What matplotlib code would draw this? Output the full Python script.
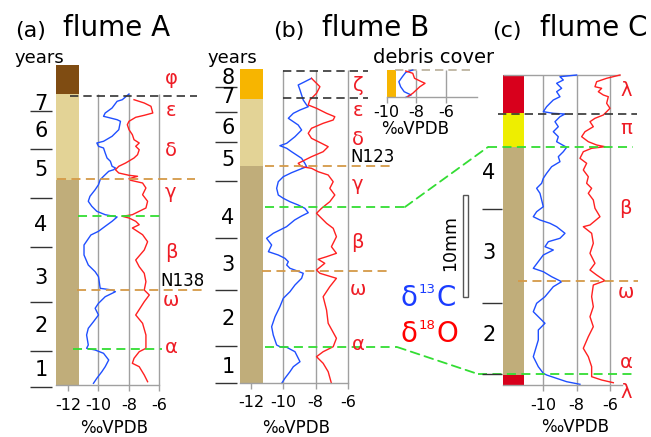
import numpy as np
import matplotlib.pyplot as plt
from matplotlib.patches import ConnectionPatch, Rectangle

plt.rcParams['font.family'] = 'DejaVu Sans'
plt.rcParams['axes.unicode_minus'] = False

# ---- data: depth (mm from top of core) and delta values (permil VPDB) ----
A_blue_d = [0.0, 0.57, 0.73, 1.4, 1.9, 2.23, 2.4, 2.57, 2.73, 3.57, 4.23, 4.73, 4.9, 5.23, 5.4, 5.9, 6.4, 6.73, 7.23,
            7.4, 7.57, 7.73, 8.23, 8.57, 9.07, 9.57, 10.23, 10.73, 11.23, 11.73, 12.07, 12.23, 12.3, 12.73, 13.23,
            13.73, 14.1, 15.1, 16.1, 17.1, 17.77, 18.27, 19.43, 19.6, 19.77, 20.27, 20.93, 21.43, 22.1, 22.77, 23.43,
            24.1, 25.1, 25.43, 25.6, 25.93, 26.6, 27.27, 27.77, 28.43, 28.93]
A_blue_v = [-8.0, -8.44, -8.78, -9.11, -9.56, -9.67, -9.22, -8.78, -8.56, -8.67, -9.11, -9.67, -10.11, -10.0, -9.67,
            -9.56, -9.44, -9.22, -9.11, -8.89, -9.0, -9.33, -9.67, -9.89, -10.0, -10.22, -10.56, -10.67, -10.44,
            -10.11, -9.56, -9.0, -8.78, -9.11, -9.56, -10.0, -10.5, -10.95, -10.95, -10.67, -10.22, -10.0, -9.89,
            -9.11, -8.89, -9.56, -10.0, -10.22, -10.0, -10.33, -10.67, -10.78, -10.67, -10.78, -10.22, -9.67, -9.33,
            -9.56, -9.78, -10.11, -10.33]
A_red_d = [0.57, 0.9, 1.23, 1.9, 2.13, 2.33, 2.73, 3.07, 3.57, 4.07, 4.57, 4.9, 5.23, 5.57, 6.07, 6.4, 6.9, 7.23, 7.57,
           7.9, 8.13, 8.23, 8.47, 8.63, 8.9, 9.4, 10.07, 10.73, 11.4, 11.73, 12.07, 12.23, 12.4, 12.73, 13.07, 13.4,
           14.07, 14.77, 15.6, 16.6, 17.27, 17.93, 18.77, 19.6, 20.1, 20.77, 22.1, 22.93, 24.1, 25.43, 25.77, 26.43,
           26.93, 27.27, 28.1, 28.77]
A_red_v = [-7.67, -7.0, -6.56, -6.44, -7.0, -7.56, -8.0, -8.11, -8.0, -7.78, -7.67, -7.33, -7.56, -7.33, -7.44, -7.67,
           -8.22, -8.67, -8.89, -8.67, -8.0, -7.44, -8.0, -7.89, -7.11, -6.89, -7.11, -6.78, -6.89, -7.33, -7.78,
           -8.44, -8.0, -7.56, -7.33, -7.78, -7.11, -6.78, -7.0, -7.56, -7.33, -7.0, -6.89, -7.0, -6.67, -7.0, -7.56,
           -7.11, -6.89, -6.89, -7.33, -7.67, -7.78, -7.33, -7.0, -6.78]

B_blue_d = [0.83, 1.17, 1.5, 2.0, 2.5, 3.0, 3.5, 3.67, 4.0, 4.33, 4.83, 5.17, 5.5, 6.0, 6.67, 7.33, 7.57, 7.83, 8.17,
            8.5, 8.83, 9.33, 9.67, 10.0, 10.27, 10.67, 11.17, 11.83, 12.5, 12.83, 13.17, 13.5, 13.83, 14.27, 14.6,
            15.0, 15.67, 16.33, 16.83, 17.5, 18.17, 18.5, 18.83, 19.17, 19.5, 19.83, 20.07, 20.33, 20.83, 21.5,
            22.17, 22.83, 23.67, 24.67, 25.67, 26.5, 27.5, 27.67, 27.73, 28.17, 29.17, 29.67, 30.17, 30.83, 31.33]
B_blue_v = [-8.26, -8.67, -9.08, -8.97, -8.87, -8.77, -8.56, -8.46, -8.97, -9.38, -9.69, -9.38, -9.08, -8.87, -9.28,
            -9.79, -10.21, -9.79, -9.49, -9.18, -8.87, -8.67, -8.56, -9.08, -9.49, -10.0, -10.31, -10.41, -10.31,
            -10.0, -9.59, -9.08, -8.67, -8.46, -8.87, -9.3, -9.8, -10.62, -11.03, -10.72, -10.92, -10.31, -9.9,
            -9.69, -9.79, -9.59, -9.18, -8.77, -8.87, -9.28, -9.59, -10.0, -10.21, -10.51, -10.72, -10.62, -10.41,
            -10.21, -9.79, -9.28, -8.97, -9.38, -9.59, -9.9, -10.1]
B_red_d = [0.83, 1.67, 2.33, 3.0, 3.5, 3.83, 4.33, 4.67, 5.0, 5.33, 5.83, 6.33, 6.83, 7.33, 7.67, 8.17, 8.67, 9.0,
           9.33, 9.67, 9.83, 10.17, 10.5, 11.17, 11.83, 12.5, 13.17, 13.83, 14.33, 14.83, 15.33, 15.83, 16.67,
           17.67, 18.33, 18.67, 18.93, 19.33, 20.0, 20.33, 20.83, 21.67, 22.67, 24.0, 25.33, 26.83, 27.67, 28.17,
           28.67, 29.33, 30.17, 31.33]
B_red_v = [-8.26, -7.74, -7.95, -8.36, -8.46, -7.95, -7.33, -6.82, -6.92, -7.54, -8.26, -8.46, -8.26, -7.64, -7.23,
           -7.54, -8.26, -8.67, -9.08, -8.87, -8.26, -7.85, -7.23, -6.92, -7.13, -6.82, -7.13, -7.64, -7.95, -7.64,
           -7.33, -6.92, -6.72, -7.03, -6.72, -7.33, -7.85, -7.44, -7.95, -7.74, -6.72, -7.13, -7.54, -7.33, -7.23,
           -6.72, -6.92, -7.54, -7.95, -7.54, -7.23, -7.03]

D_blue_d = [0, 0.23, 0.67, 1.17, 1.67, 2.17, 2.5, 2.73]
D_blue_v = [-8.24, -8.71, -8.94, -9.18, -9.06, -8.82, -8.35, -8.71]
D_red_d = [0.1, 0.33, 0.83, 1.17, 1.33, 1.67, 2.0, 2.33, 2.67]
D_red_v = [-8.71, -8.24, -8.12, -7.65, -7.41, -7.76, -8.0, -8.24, -8.59]

C_blue_d = [0, 0.17, 0.5, 0.83, 1.33, 1.67, 2.17, 2.5, 2.83, 3.17, 3.67, 3.83, 3.9, 4.17, 4.67, 5.17, 5.67, 6.17,
            6.67, 7.23, 7.67, 8.17, 8.67, 9.17, 9.83, 10.33, 10.83, 11.33, 11.83, 12.5, 13.17, 13.67, 14.17, 14.5,
            14.83, 15.17, 15.83, 16.33, 16.67, 17.17, 17.5, 18.0, 19.33, 19.67, 20.17, 20.67, 21.17, 22.17, 22.83,
            23.67, 24.17, 24.83, 25.5, 26.5, 28.17, 29.17, 29.83, 30.0, 30.67, 30.93]
C_blue_v = [-8.0, -9.0, -8.8, -9.2, -8.9, -9.2, -9.0, -9.4, -9.6, -9.8, -10.0, -9.4, -8.7, -9.0, -9.3, -9.1, -9.4,
            -9.1, -9.2, -8.6, -8.8, -9.1, -9.0, -9.5, -9.8, -10.0, -10.1, -10.4, -10.2, -10.1, -10.0, -10.4, -10.6,
            -10.2, -9.6, -9.2, -8.7, -9.0, -9.7, -9.9, -9.4, -10.0, -10.6, -10.0, -9.5, -8.9, -9.4, -9.9, -10.4,
            -10.6, -10.3, -9.9, -10.3, -10.3, -10.6, -10.3, -10.0, -9.8, -8.6, -7.8]
C_red_d = [0, 0.33, 0.67, 1.17, 1.33, 1.67, 2.0, 2.17, 2.83, 3.33, 3.67, 4.0, 4.33, 4.67, 5.17, 5.67, 6.17, 6.67, 7.0,
           7.17, 7.33, 7.67, 8.33, 8.83, 9.5, 10.17, 10.83, 11.33, 11.83, 12.5, 13.33, 14.17, 15.0, 15.17, 15.83,
           16.83, 17.83, 18.83, 19.5, 20.0, 20.57, 21.0, 22.17, 23.17, 24.17, 25.17, 26.17, 27.33, 28.17, 29.17,
           30.17, 30.5, 30.77]
C_red_v = [-5.4, -6.2, -6.8, -6.9, -6.5, -6.7, -6.4, -6.1, -6.2, -6.0, -6.2, -6.4, -6.9, -7.2, -7.0, -7.5, -7.7, -7.3,
           -6.8, -6.3, -7.1, -7.6, -7.8, -7.4, -7.6, -7.3, -7.4, -7.1, -7.3, -7.0, -6.9, -6.6, -7.2, -7.6, -7.1,
           -7.0, -7.2, -6.9, -7.2, -6.8, -6.3, -7.0, -7.1, -7.0, -7.2, -7.0, -7.3, -7.6, -7.3, -7.1, -7.1, -6.5,
           -5.8]

# core columns: unit boundaries (depth) and colours
A_units = [-2.9, 0.0, 8.6, 29.1]
A_colors = ['#7f4c12', '#e3d396', '#c0ad7a']
B_units = [-0.1, 2.9, 9.6, 31.3]
B_colors = ['#f7b500', '#e3d396', '#c0ad7a']
C_units = [0.0, 3.8, 7.2, 30.0, 31.0]
C_colors = ['#d8001c', '#eeee00', '#c0ad7a', '#d8001c']

# year boundaries and labels
A_year_ticks = [1.7, 5.5, 10.4, 15.3, 20.8, 25.7, 29.3]
A_years = ['7', '6', '5', '4', '3', '2', '1']
A_year_pos = [1.0, 3.7, 7.6, 13.1, 18.4, 23.2, 27.6]
B_year_ticks = [1.7, 4.2, 7.2, 11.1, 16.8, 22.0, 27.6, 31.3]
B_years = ['8', '7', '6', '5', '4', '3', '2', '1']
B_year_pos = [0.8, 2.75, 5.8, 9.0, 14.8, 19.5, 24.9, 29.7]
C_year_ticks = [13.4, 22.8, 29.9]
C_years = ['4', '3', '2']
C_year_pos = [9.8, 17.8, 26.0]

# layer names
A_layers = [('φ', -1.5), ('ε', 1.6), ('δ', 5.6), ('γ', 9.9), ('β', 15.8), ('ω', 20.6), ('α', 25.3)]
B_layers = [('ζ', 1.6), ('ε', 4.1), ('δ', 7.0), ('γ', 11.5), ('β', 17.3), ('ω', 22.0), ('α', 27.5)]
C_layers = [('λ', 1.5), ('π', 5.3), ('β', 13.3), ('ω', 21.7), ('α', 28.8), ('λ', 31.8)]

BLUE = '#1f4fff'
RED = '#ff2020'
LRED = '#ee1c25'
GRAY = '#a0a0a0'
GREEN = '#33dd33'
ORANGE = '#d49a48'
BLACK = '#333333'
DASH = (0, (5, 3))

W, H = 651, 437
fig = plt.figure(figsize=(W / 100, H / 100), dpi=100)


def panel_axes(x0, x1, ref, sx, top):
    # x0, x1: pixel span; ref: pixel of -10 permil; sx: px per permil; top: pixel row of depth 0
    ax = fig.add_axes([x0 / W, 0, (x1 - x0) / W, 1])
    v0 = -10 - (ref - x0) / sx
    ax.set_xlim(v0, v0 + (x1 - x0) / sx)
    ax.set_ylim((H - top) / 10, -top / 10)
    ax.patch.set_visible(False)
    for s in ['top', 'left', 'right']:
        ax.spines[s].set_visible(False)
    ax.set_yticks([])
    return ax


def bottom_axis(ax, depth, lo, hi, ticks, pad):
    sp = ax.spines['bottom']
    sp.set_position(('data', depth))
    sp.set_bounds(lo, hi)
    sp.set_color(GRAY)
    sp.set_linewidth(1.0)
    ax.set_xticks(ticks)
    ax.set_xticklabels([str(t) for t in ticks])
    ax.tick_params(axis='x', length=4, width=1, color=GRAY, labelsize=11.5, pad=pad)


def column(ax, lo, hi, edges, colors):
    ax.bar([(lo + hi) / 2] * len(colors), np.diff(edges), bottom=edges[:-1], width=hi - lo,
           color=colors, linewidth=0, zorder=1)


def years(ax, xt0, xt1, xl, ticks, labels, pos):
    ax.hlines(ticks, xt0, xt1, color=BLACK, lw=1.0)
    for lab, p in zip(labels, pos):
        ax.text(xl, p, lab, fontsize=15, ha='center', va='center')


def layers(ax, x, items):
    for lab, p in items:
        ax.text(x, p, lab, fontsize=14, color=LRED, ha='center', va='center')


# ---------------- panel A ----------------
axA = panel_axes(0, 215, 98.5, 15.25, 94)
column(axA, -12.79, -11.25, A_units, A_colors)
axA.vlines([-10, -8, -6], 0, 29.1, color=GRAY, lw=1.0)
bottom_axis(axA, 29.1, -12.79, -6, [-12, -10, -8, -6], 5)
axA.plot(A_blue_v, A_blue_d, color=BLUE, lw=1.0)
axA.plot(A_red_v, A_red_d, color=RED, lw=1.0)
axA.hlines(0.2, -11.87, -3.54, color=BLACK, lw=1.2, linestyles=DASH)
axA.hlines([8.5, 19.6], [-12.72, -11.41], [-3.67, -3.15], color=ORANGE, lw=1.3, linestyles=DASH)
axA.hlines([12.2, 25.5], [-11.34, -11.67], [-5.84, -5.84], color=GREEN, lw=1.3, linestyles=DASH)
years(axA, -14.49, -13.05, -13.77, A_year_ticks, A_years, A_year_pos)
axA.text(-13.9, -3.6, 'years', fontsize=13, ha='center', va='center')
layers(axA, -5.25, A_layers)
axA.text(-4.46, 18.7, 'N138', fontsize=12, ha='center', va='center')
axA.text(-8.98, 33.4, '‰VPDB', fontsize=12, ha='center', va='center')

# ---------------- panel B ----------------
axB = panel_axes(200, 420, 283.3, 16.2, 70)
column(axB, -12.67, -11.25, B_units, B_colors)
axB.vlines([-10, -8, -6], 0, 31.3, color=GRAY, lw=1.0)
bottom_axis(axB, 31.3, -12.67, -6, [-12, -10, -8, -6], 5)
axB.plot(B_blue_v, B_blue_d, color=BLUE, lw=1.0)
axB.plot(B_red_v, B_red_d, color=RED, lw=1.0)
axB.hlines([0.07, 2.85], -10.02, -4.77, color=BLACK, lw=1.2, linestyles=DASH)
axB.hlines([9.6, 20.1], [-11.13, -11.31], [-3.23, -3.54], color=ORANGE, lw=1.3, linestyles=DASH)
axB.hlines([13.7, 27.7], [-11.13, -11.13], [-2.49, -2.98], color=GREEN, lw=1.3, linestyles=DASH)
years(axB, -14.2, -12.85, -13.41, B_year_ticks, B_years, B_year_pos)
axB.text(-13.17, -1.2, 'years', fontsize=13, ha='center', va='center')
layers(axB, -5.4, B_layers)
axB.text(-4.52, 8.7, 'N123', fontsize=12, ha='center', va='center')
axB.text(-9.2, 35.8, '‰VPDB', fontsize=12, ha='center', va='center')

# ---------------- debris cover inset ----------------
axD = panel_axes(370, 500, 386.7, 14.8, 70)
column(axD, -10, -9.35, [0, 2.7], ['#f7b500'])
axD.vlines([-8, -6], 0, 2.7, color=GRAY, lw=1.0)
bottom_axis(axD, 2.7, -10, -3.92, [-10, -8, -6], 2)
axD.hlines(0, -9.44, -4.03, color='#b8ae98', lw=1.2, linestyles=DASH)
axD.plot(D_blue_v, D_blue_d, color=BLUE, lw=1.0)
axD.plot(D_red_v, D_red_d, color=RED, lw=1.0)
axD.text(-6.8, -1.2, 'debris cover', fontsize=14, ha='center', va='center')
axD.text(-8.09, 5.9, '‰VPDB', fontsize=12, ha='center', va='center')

# ---------------- panel C ----------------
axC = panel_axes(420, 651, 543.3, 16.67, 75)
column(axC, -12.42, -11.16, C_units, C_colors)
axC.vlines([-10, -8, -6], 0, 31.0, color=GRAY, lw=1.0)
axC.hlines(0, -12.42, -5.4, color=GRAY, lw=1.0)
bottom_axis(axC, 31.0, -12.42, -5.3, [-10, -8, -6], 5)
axC.plot(C_blue_v, C_blue_d, color=BLUE, lw=1.0)
axC.plot(C_red_v, C_red_d, color=RED, lw=1.0)
axC.hlines(3.9, -12.72, -4.38, color=BLACK, lw=1.2, linestyles=DASH)
axC.hlines(20.6, -11.52, -4.32, color=ORANGE, lw=1.3, linestyles=DASH)
axC.hlines([7.2, 29.9], [-13.32, -13.92], [-4.63, -4.63], color=GREEN, lw=1.3, linestyles=DASH)
years(axC, -13.68, -12.48, -13.26, C_year_ticks, C_years, C_year_pos)
layers(axC, -5.05, C_layers)
axC.text(-8.1, 35.2, '‰VPDB', fontsize=12, ha='center', va='center')
axC.add_patch(Rectangle((-14.82, 12.0), 0.3, 10.2, facecolor='white', edgecolor='#555555', lw=1.0))
axC.text(-15.6, 16.8, '10mm', fontsize=12.5, rotation=90, ha='center', va='center')

# green links between flume B and flume C
for (xa, ya), (xb, yb) in [((-2.49, 13.7), (-13.32, 7.2)), ((-2.98, 27.7), (-13.92, 29.9))]:
    con = ConnectionPatch(xyA=(xa, ya), coordsA=axB.transData, xyB=(xb, yb), coordsB=axC.transData,
                          color=GREEN, lw=1.3, linestyle=DASH)
    fig.add_artist(con)

# titles and legend text
for x, lab, size in [(31, '(a)', 16), (117, 'flume A', 20), (289, '(b)', 16), (376, 'flume B', 20),
                     (507, '(c)', 16), (594, 'flume C', 20)]:
    fig.text(x / W, 1 - 36.5 / H, lab, fontsize=size, ha='center', va='baseline')

# isotope legend: big delta, small raised mass number, element
for base, sup, elem, col in [(306, '13', 'C', '#1a3cff'), (342, '18', 'O', '#ff0000')]:
    fig.text(400 / W, 1 - base / H, 'δ', fontsize=20, color=col, ha='left', va='baseline')
    fig.text(418.5 / W, 1 - (base - 13) / H, sup, fontsize=9.5, color=col, ha='left', va='baseline')
    fig.text(436 / W, 1 - base / H, elem, fontsize=20, color=col, ha='left', va='baseline')

fig.savefig('out.png', dpi=100)
